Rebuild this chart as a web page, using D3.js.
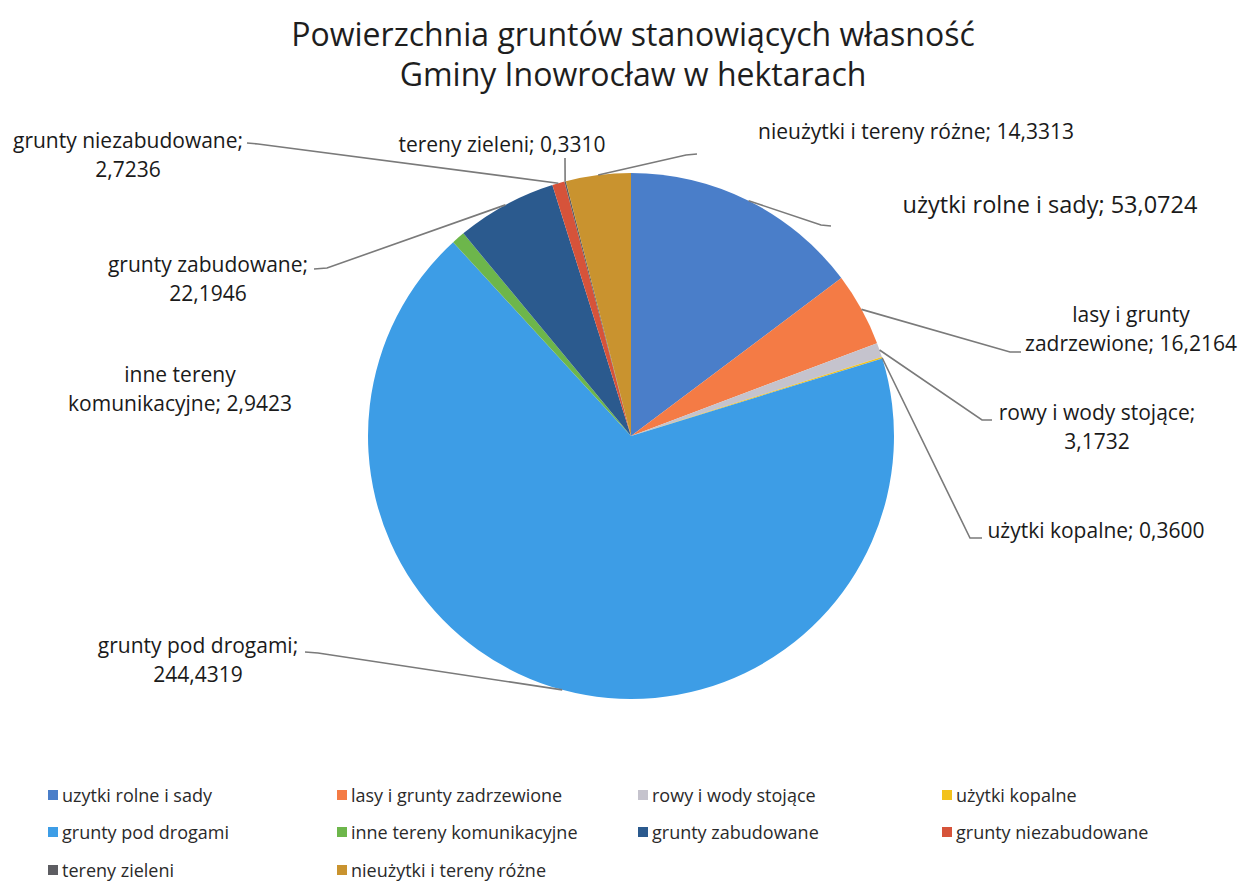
<!DOCTYPE html>
<html>
<head>
<meta charset="utf-8">
<script src="https://cdn.jsdelivr.net/npm/d3@7"></script>
<style>
  body { margin: 0; background: #fff; }
  svg { font-family: "Open Sans", sans-serif; }
</style>
</head>
<body>
<div id="chart"></div>
<script>
// data
const categories = [
  "użytki rolne i sady", "lasy i grunty zadrzewione", "rowy i wody stojące",
  "użytki kopalne", "grunty pod drogami", "inne tereny komunikacyjne",
  "grunty zabudowane", "grunty niezabudowane", "tereny zieleni",
  "nieużytki i tereny różne"
];
const legendNames = [
  "uzytki rolne i sady", "lasy i grunty zadrzewione", "rowy i wody stojące",
  "użytki kopalne", "grunty pod drogami", "inne tereny komunikacyjne",
  "grunty zabudowane", "grunty niezabudowane", "tereny zieleni",
  "nieużytki i tereny różne"
];
const values = [53.0724, 16.2164, 3.1732, 0.3600, 244.4319, 2.9423, 22.1946, 2.7236, 0.3310, 14.3313];
const valueLabels = ["53,0724", "16,2164", "3,1732", "0,3600", "244,4319", "2,9423", "22,1946", "2,7236", "0,3310", "14,3313"];
const colors = ["#4a7ec9", "#f47b45", "#c5c3cd", "#f3c21c", "#3d9de6", "#6db64b", "#2b5a8e", "#d6533a", "#5d5d62", "#c9932f"];

const width = 1242, height = 892;
const cx = 631, cy = 436, r = 263;

// where each data label sits and how its leader bends (layout, not data)
const labelLayout = [
  { lines: [categories[0] + "; " + valueLabels[0]], x: 1050, y: 213, size: 23.5, elbow: [821, 225], end: [831, 226] },
  { lines: ["lasy i grunty", "zadrzewione; " + valueLabels[1]], x: 1131, y: 322, size: 21, elbow: [1010, 352], end: [1021, 352] },
  { lines: [categories[2] + ";", valueLabels[2]], x: 1097, y: 420, size: 21, elbow: [982, 420], end: [992, 420] },
  { lines: [categories[3] + "; " + valueLabels[3]], x: 1096, y: 538, size: 21, elbow: [970, 538], end: [982, 538] },
  { lines: [categories[4] + ";", valueLabels[4]], x: 198, y: 653, size: 21, elbow: [318, 653], end: [305, 652] },
  { lines: ["inne tereny", "komunikacyjne; " + valueLabels[5]], x: 180, y: 382, size: 21 },
  { lines: [categories[6] + ";", valueLabels[6]], x: 208, y: 272, size: 21, elbow: [327, 268], end: [314, 269] },
  { lines: [categories[7] + ";", valueLabels[7]], x: 128, y: 148, size: 21, elbow: [258, 144], end: [247, 143] },
  { lines: [categories[8] + "; " + valueLabels[8]], x: 502, y: 152, size: 21, elbow: [565, 160], end: [565, 158] },
  { lines: [categories[9] + "; " + valueLabels[9]], x: 916, y: 139, size: 21, elbow: [686, 155], end: [697, 154] }
];

const svg = d3.select("#chart").append("svg")
  .attr("width", width)
  .attr("height", height);

// title
svg.append("text")
  .attr("x", 633).attr("y", 46)
  .attr("text-anchor", "middle")
  .attr("font-size", 32)
  .attr("fill", "#1e1e1e")
  .text("Powierzchnia gruntów stanowiących własność");
svg.append("text")
  .attr("x", 633).attr("y", 86)
  .attr("text-anchor", "middle")
  .attr("font-size", 32)
  .attr("fill", "#1e1e1e")
  .text("Gminy Inowrocław w hektarach");

const pie = d3.pie().sort(null).value(d => d);
const arcs = pie(values);
const arc = d3.arc().innerRadius(0).outerRadius(r);

const g = svg.append("g").attr("transform", "translate(" + cx + "," + cy + ")");
g.selectAll("path")
  .data(arcs)
  .enter()
  .append("path")
  .attr("d", arc)
  .attr("fill", (d, i) => colors[i]);

// leader lines: from slice edge at mid angle to the label
const edge = d3.arc().innerRadius(r).outerRadius(r);
const leaders = svg.append("g");
arcs.forEach((d, i) => {
  const L = labelLayout[i];
  if (!L.elbow) return;
  const p = edge.centroid(d);
  const pts = [[cx + p[0], cy + p[1]], L.elbow, L.end];
  leaders.append("path")
    .attr("d", d3.line()(pts))
    .attr("fill", "none")
    .attr("stroke", "#7a7a7a")
    .attr("stroke-width", 1.6);
});

// data labels
const labels = svg.append("g");
labelLayout.forEach((L, i) => {
  const t = labels.append("text")
    .attr("text-anchor", "middle")
    .attr("font-size", L.size)
    .attr("fill", "#1a1a1a");
  L.lines.forEach((line, j) => {
    t.append("tspan")
      .attr("x", L.x)
      .attr("y", L.y + j * 29)
      .text(line);
  });
});

// legend
const legendCols = [53, 342, 643, 947];
const legendRows = [795, 832, 870];
const legend = svg.append("g");
legendNames.forEach((name, i) => {
  const col = i % 4, row = Math.floor(i / 4);
  const x = legendCols[col], y = legendRows[row];
  legend.append("rect")
    .attr("x", x - 5).attr("y", y - 5)
    .attr("width", 10).attr("height", 10)
    .attr("fill", colors[i]);
  legend.append("text")
    .attr("x", x + 9).attr("y", y + 6.5)
    .attr("font-size", 18)
    .attr("fill", "#2a2a2a")
    .text(name);
});
</script>
</body>
</html>
